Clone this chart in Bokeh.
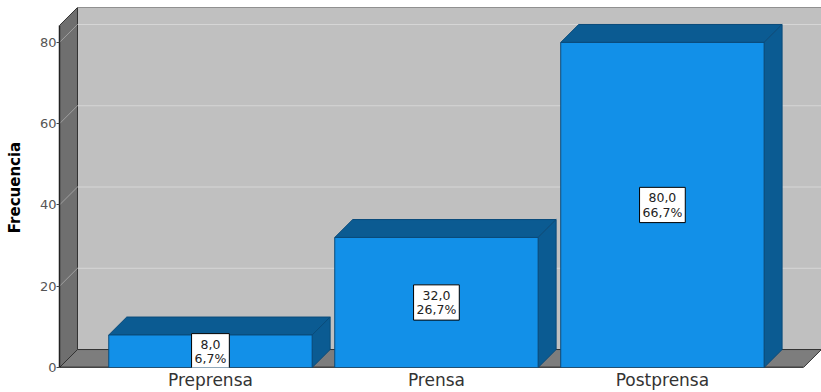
from bokeh.plotting import figure
from bokeh.models import FixedTicker, Range1d
from bokeh.embed import file_html
from bokeh.resources import INLINE
from bokeh.core.properties import value

# ---- data ----
categories = ["Preprensa", "Prensa", "Postprensa"]
frequencies = [8, 32, 80]
count_labels = ["8,0", "32,0", "80,0"]
percent_labels = ["6,7%", "26,7%", "66,7%"]
y_ticks = [0, 20, 40, 60, 80]

# ---- 3D geometry (in data units) ----
X0, X1 = -0.668, 2.704      # x extent of the frame
XF = 2.624                  # front right edge of the floor
Y1 = 88.6                   # top of the back wall
DX, DY = 0.0796, 4.42       # depth offset
BW = 0.9                    # bar width

FONT = "DejaVu Sans"

p = figure(width=821, height=392, output_backend="svg", toolbar_location=None,
           x_range=Range1d(X0, X1), y_range=Range1d(0, Y1),
           min_border_left=59, min_border_right=0, min_border_top=7, min_border_bottom=24)
p.outline_line_color = None
p.xgrid.visible = False
p.ygrid.visible = False
p.background_fill_color = "white"
p.border_fill_color = "white"

edge = "#333333"
# back wall
p.quad(left=[X0 + DX], right=[X1], bottom=[DY], top=[Y1],
       fill_color="#c0c0c0", line_color=edge, line_width=1)
# left wall
p.patch([X0, X0, X0 + DX, X0 + DX], [0, Y1 - DY, Y1, DY],
        fill_color="#6f6f6f", line_color=edge, line_width=1)
# floor
p.patch([X0, XF, XF + DX, X0 + DX], [0, 0, DY, DY],
        fill_color="#7d7d7d", line_color=edge, line_width=1)
p.line([X0, XF], [0, 0], line_color="black", line_width=1.5)

# gridlines on back wall and left wall
g = [t for t in y_ticks if t > 0]
p.segment(x0=[X0 + DX] * len(g), y0=[t + DY for t in g], x1=[X1] * len(g), y1=[t + DY for t in g],
          line_color="#d6d6d6", line_width=1)
p.segment(x0=[X0] * len(g), y0=g, x1=[X0 + DX] * len(g), y1=[t + DY for t in g],
          line_color="#a0a0a0", line_width=1)

# bars
front = "#1290e8"
dark = "#0b5b92"
bedge = "#0a4b7a"
xs = list(range(len(categories)))
for i, v in zip(xs, frequencies):
    xl, xr = i - BW / 2, i + BW / 2
    # top face
    p.patch([xl, xr, xr + DX, xl + DX], [v, v, v + DY, v + DY],
            fill_color=dark, line_color=bedge, line_width=1)
    # side face
    p.patch([xr, xr, xr + DX, xr + DX], [0, v, v + DY, DY],
            fill_color=dark, line_color=bedge, line_width=1)
p.quad(left=[i - BW / 2 for i in xs], right=[i + BW / 2 for i in xs],
       bottom=0, top=frequencies, fill_color=front, line_color=bedge, line_width=1)

# value labels
p.text(x=xs, y=[v / 2 for v in frequencies],
       text=[c + "\n" + pc for c, pc in zip(count_labels, percent_labels)],
       text_font=value(FONT), text_font_size="12.5px", text_color="#222222",
       text_align="center", text_baseline="middle", text_line_height=0.95,
       background_fill_color="white", border_line_color="black", border_line_width=1,
       padding=3)

# axes
ya = p.yaxis[0]
ya.ticker = FixedTicker(ticks=y_ticks)
ya.bounds = (0, Y1 - DY)
ya.axis_line_color = "#222222"
ya.axis_line_width = 1.5
ya.major_tick_out = 3
ya.major_tick_in = 0
ya.minor_tick_line_color = None
ya.major_tick_line_color = "#444444"
ya.major_label_standoff = 0
ya.major_label_text_font = FONT
ya.major_label_text_font_size = "13px"
ya.major_label_text_color = "#555555"
ya.axis_label = "Frecuencia"
ya.axis_label_text_font = FONT
ya.axis_label_text_font_size = "15px"
ya.axis_label_text_font_style = "bold"
ya.axis_label_text_color = "black"
ya.axis_label_standoff = 13

xa = p.xaxis[0]
xa.ticker = FixedTicker(ticks=xs)
xa.major_label_overrides = {i: c for i, c in zip(xs, categories)}
xa.axis_line_color = None
xa.major_tick_line_color = None
xa.minor_tick_line_color = None
xa.major_tick_out = 0
xa.major_tick_in = 0
xa.minor_tick_out = 0
xa.axis_label_standoff = 0
xa.major_label_standoff = 2
xa.major_label_text_font = FONT
xa.major_label_text_font_size = "17px"
xa.major_label_text_color = "#333333"

open("out.html", "w").write(file_html(p, INLINE))
